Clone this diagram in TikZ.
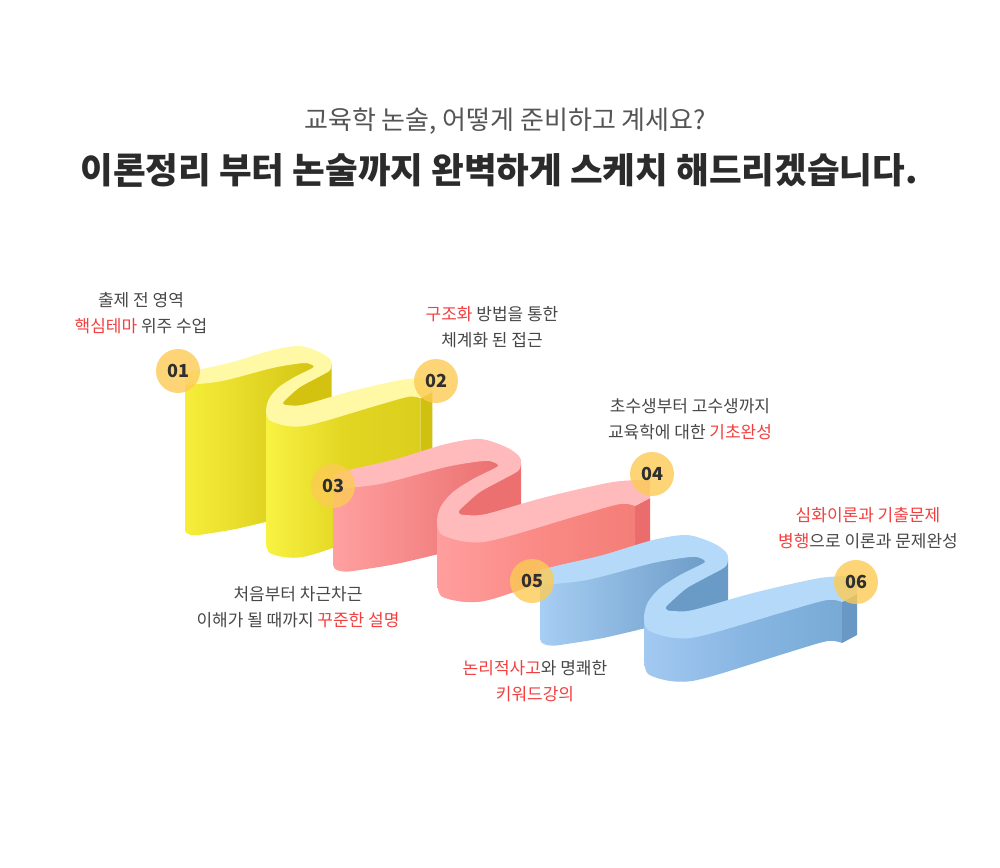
\documentclass[tikz,border=0pt]{standalone}
\usepackage{fontspec}
\setmainfont{Noto Sans CJK KR}
\usepackage{xcolor}
\usepackage{tikz}

\definecolor{ylwTop}{HTML}{FFF8A5}
\definecolor{ylwWallL}{HTML}{F6EE3A}
\definecolor{ylwWallR}{HTML}{D2C212}
\definecolor{ylwDark}{HTML}{D3C20F}
\definecolor{ylwFrontL}{HTML}{F8F242}
\definecolor{ylwFrontM}{HTML}{E3D623}
\definecolor{ylwFrontR}{HTML}{DBCE1C}
\definecolor{ylwCap}{HTML}{D0C010}
\definecolor{redTop}{HTML}{FFBBBB}
\definecolor{redWallL}{HTML}{FFA0A0}
\definecolor{redWallR}{HTML}{EA6E6E}
\definecolor{redDark}{HTML}{EC7070}
\definecolor{redFrontL}{HTML}{FF9E9E}
\definecolor{redFrontM}{HTML}{FA8A85}
\definecolor{redFrontR}{HTML}{F47E78}
\definecolor{redCap}{HTML}{EB6C6C}
\definecolor{bluTop}{HTML}{B5DAF9}
\definecolor{bluWallL}{HTML}{A7CEF4}
\definecolor{bluWallR}{HTML}{6A9AC5}
\definecolor{bluDark}{HTML}{6A9BC6}
\definecolor{bluFrontL}{HTML}{A3C9F1}
\definecolor{bluFrontM}{HTML}{88B6E2}
\definecolor{bluFrontR}{HTML}{78AAD6}
\definecolor{bluCap}{HTML}{6898C3}
\definecolor{dotgold}{HTML}{FCCB55}
\definecolor{numgray}{HTML}{2F2F2F}
\definecolor{txtgray}{HTML}{474747}
\definecolor{hlred}{HTML}{F23F3F}
\definecolor{subgray}{HTML}{555555}
\definecolor{titlegray}{HTML}{2B2B2B}

\newcommand{\redtxt}[1]{{\color{hlred}#1}}

% #1 shift, #2 scale, #3 first wall, #4 last wall (left), #5 last wall (end), #6 colour set
\newcommand{\ribbon}[6]{%
  \begin{scope}[shift={#1},scale=#2]
    % front wall of the first run
    \shade[left color=#6WallL,right color=#6WallR]
      (0,-7) -- (47,-13) -- (113,-33) -- (150,-39) -- (175,-35) -- (172,-20) -- (156,-12) -- (128,8) -- (114,26)
      -- plot[smooth,tension=.5] coordinates {(114,{#3-21}) (63,{#3-9}) (20,{#3-2})}
      .. controls (8,{#3}) and (0,{#3-3}) .. (0,{#3-8}) -- cycle;
    % wall in the fold
    \fill[#6Dark] (178,-32) -- (188,-26) -- (188,40) -- (118,40) -- (116,28) -- (130,12) -- (160,-10) -- cycle;
    % front wall of the last run
    \shade[left color=#6FrontL,right color=#6FrontR,middle color=#6FrontM]
      (104,32) -- (120,34) -- (150,38) -- (200,27) -- (260,8) -- (302,4)
      -- plot[smooth,tension=.5] coordinates {(302,{17+#5}) (287,{15+0.05*#4+0.95*#5}) (247,{26+0.28*#4+0.72*#5})
         (180,{46+0.62*#4+0.38*#5}) (150,{53+0.77*#4+0.23*#5}) (128,{52+0.88*#4+0.12*#5}) (108,{45+#4}) (104,{32+#4})}
      -- cycle;
    % end face
    \fill[#6Cap] (302,17) -- (317,9) -- (317,{9+#5}) -- (302,{17+#5}) -- cycle;
    % top of the band
    \fill[#6Top]
      plot[smooth,tension=.5] coordinates {(0,-15) (20,-20) (63,-30) (113,-45) (147,-50) (173,-42) (186,-33) (188,-26)
         (185,-18) (167,-8) (147,3) (133,15) (126,22) (127,25) (133,26) (153,25) (213,8) (280,-7) (317,-9)}
      -- (317,9)
      -- plot[smooth,tension=.5] coordinates {(302,17) (287,15) (247,26) (180,46) (150,53) (128,52) (108,45) (104,32)
         (108,17) (120,3) (140,-10) (162,-21) (165,-24) (160,-27) (150,-28) (113,-22) (47,-5) (0,0)}
      -- cycle;
  \end{scope}}

\begin{document}
\begin{tikzpicture}[x=1pt,y=-1pt,
    lbl/.style={align=center, text=txtgray, inner sep=0pt, font=\fontsize{17}{26}\selectfont},
    numdot/.style={circle, fill=dotgold, fill opacity=.8, text opacity=1, minimum size=44pt, inner sep=0pt,
      text=numgray, font=\bfseries\fontsize{18}{18}\selectfont}]
    \useasboundingbox (0,0) rectangle (1000,867);

    % Heading
    \node[font=\fontsize{26}{26}\selectfont, text=subgray] (subtitle) at (505,121) {교육학 논술, 어떻게 준비하고 계세요?};
    \node[font=\bfseries\fontsize{35.5}{36}\selectfont, text=titlegray] (title) at (499,170) {이론정리 부터 논술까지 완벽하게 스케치 해드리겠습니다.};

    % Ribbons, back to front
    \ribbon{(185,385)}{0.78}{194}{170}{160}{ylw}
    \ribbon{(333,489)}{1}{84}{62}{50}{red}
    \ribbon{(540,585)}{1}{62}{44}{41}{blu}

    % Step numbers
    \node[numdot] (s01) at (178,371) {01};
    \node[numdot] (s02) at (436,381) {02};
    \node[numdot] (s03) at (333,486) {03};
    \node[numdot] (s04) at (652,474) {04};
    \node[numdot] (s05) at (532,581) {05};
    \node[numdot] (s06) at (856,582) {06};

    % Step texts
    \node[lbl] (t01) at (141,313) {출제 전 영역\\\redtxt{핵심테마} 위주 수업};
    \node[lbl] (t02) at (492,327) {\redtxt{구조화} 방법을 통한\\체계화 된 접근};
    \node[lbl] (t03) at (690,419) {초수생부터 고수생까지\\교육학에 대한 \redtxt{기초완성}};
    \node[lbl] (t04) at (868,528) {\redtxt{심화이론과 기출문제}\\\redtxt{병행}으로 이론과 문제완성};
    \node[lbl] (t05) at (298,607) {처음부터 차근차근\\이해가 될 때까지 \redtxt{꾸준한 설명}};
    \node[lbl] (t06) at (535,681) {\redtxt{논리적사고}와 명쾌한\\\redtxt{키워드강의}};
\end{tikzpicture}
\end{document}
